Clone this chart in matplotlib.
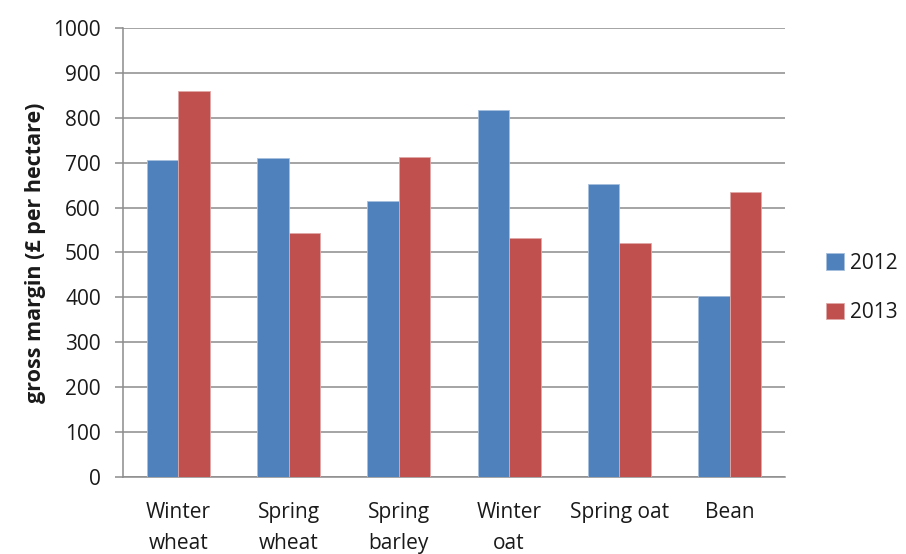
import matplotlib
matplotlib.use("Agg")
import matplotlib.pyplot as plt
import numpy as np

plt.rcParams['font.family'] = ['Open Sans', 'DejaVu Sans']

categories = ["Winter\nwheat", "Spring\nwheat", "Spring\nbarley", "Winter\noat", "Spring oat", "Bean"]
margin_2012 = [707, 710, 614, 817, 653, 403]
margin_2013 = [859, 543, 713, 533, 522, 634]
series_labels = ["2012", "2013"]
y_ticks = [0, 100, 200, 300, 400, 500, 600, 700, 800, 900, 1000]

blue = "#4F81BD"
red = "#C0504D"
grid_grey = "#8C8C8C"
text_col = "#1A1A1A"

fig = plt.figure(figsize=(9.06, 5.54), dpi=100)
ax = fig.add_axes([0.1358, 0.139, 0.7306, 0.8105])

x = np.arange(len(categories))
w = 0.286
ax.bar(x - w / 2, margin_2012, width=w, color=blue, edgecolor="#A7C0DE", linewidth=0.6,
       label=series_labels[0], zorder=3)
ax.bar(x + w / 2, margin_2013, width=w, color=red, edgecolor="#E0A9A7", linewidth=0.6,
       label=series_labels[1], zorder=3)

ax.set_xlim(-0.5, len(categories) - 0.5)
ax.set_ylim(0, 1000)
ax.set_yticks(y_ticks)
ax.set_yticklabels([str(v) for v in y_ticks], fontsize=15, color=text_col)
ax.set_xticks(x)
ax.set_xticklabels(categories, fontsize=15, color=text_col, linespacing=1.6)

ax.yaxis.grid(True, color=grid_grey, linewidth=1.1, zorder=0)
ax.set_axisbelow(True)

for side in ("top", "right"):
    ax.spines[side].set_visible(False)
for side in ("left", "bottom"):
    ax.spines[side].set_color(grid_grey)
    ax.spines[side].set_linewidth(1.1)

ax.tick_params(axis="y", length=6, width=1.1, color=grid_grey, pad=10)
ax.tick_params(axis="x", length=0, pad=18)

ax.set_ylabel("gross margin (£ per hectare)", fontsize=15.5, fontweight="bold", labelpad=5,
              color=text_col)

leg = fig.legend(loc="center left", bbox_to_anchor=(0.912, 0.48), frameon=False, fontsize=15,
                 handlelength=0.85, handleheight=0.85, handletextpad=0.3, labelspacing=1.35,
                 borderpad=0, borderaxespad=0)
for t in leg.get_texts():
    t.set_color(text_col)

fig.savefig("out.png", dpi=100)
